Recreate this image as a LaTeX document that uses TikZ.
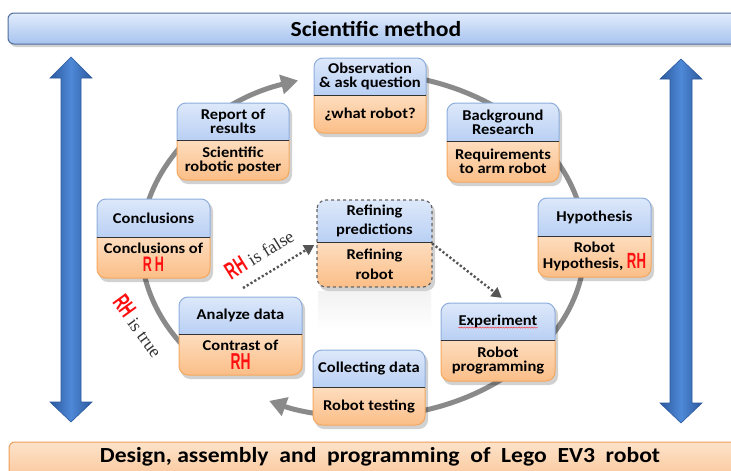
\documentclass[tikz,border=0pt]{standalone}
\usepackage{fontspec}
\usepackage{graphicx}
\setmainfont{Carlito}[FakeStretch=1.1]
\newfontfamily\rhfont{Liberation Sans}
\newfontfamily\serfont{Liberation Serif}
\usetikzlibrary{arrows.meta,decorations.pathmorphing,fit}
\definecolor{bA}{HTML}{DDE8FA}
\definecolor{bB}{HTML}{B9D0F4}
\definecolor{bBorder}{HTML}{8EAEDD}
\definecolor{oA}{HTML}{FDDDBF}
\definecolor{oB}{HTML}{FBBE87}
\definecolor{oBorder}{HTML}{F4A860}
\definecolor{banA}{HTML}{E2ECFC}
\definecolor{banB}{HTML}{A6C3EF}
\definecolor{banBorder}{HTML}{4F6E9B}
\definecolor{banOA}{HTML}{FDE3CA}
\definecolor{banOB}{HTML}{F9BE8C}
\definecolor{banOBorder}{HTML}{EE9E5A}
\definecolor{arrDark}{HTML}{2C5A9E}
\definecolor{arrLight}{HTML}{4E89D8}
\definecolor{arcgray}{HTML}{8A8A8A}
\definecolor{dotgray}{HTML}{555555}
\definecolor{rhred}{HTML}{FF1010}
\definecolor{txtgray}{HTML}{333333}
\newcommand\RH[1][22]{\textcolor{rhred}{\rhfont\bfseries\fontsize{#1}{#1}\selectfont\scalebox{0.6}[1]{RH}}}
\newcommand\RsH[1][21]{\textcolor{rhred}{\rhfont\bfseries\fontsize{#1}{#1}\selectfont\scalebox{0.6}[1]{R\hspace{5pt}H}}}
\tikzset{
  stagetxt/.style={align=center,inner sep=0pt,text=black,font=\bfseries\fontsize{15}{14}\selectfont},
  boxframe/.style={inner sep=0pt,draw=none},
  cyc/.style={line width=5pt,draw=arcgray,-{Triangle[length=17pt,width=19pt]}},
  dotarrow/.style={line width=2.4pt,draw=dotgray,dash pattern=on 2.2pt off 2.2pt,-{Triangle[length=10pt,width=11pt]}},
  bigarrow/.style={left color=arrDark,right color=arrDark,middle color=arrLight,draw=arrDark,line width=.6pt},
  shadowfill/.style={fill=black,opacity=.18},
  lbltxt/.style={inner sep=0pt,font=\serfont\fontsize{18}{18}\selectfont,text=txtgray}
}
% #1 name, #2 x1, #3 y1, #4 x2, #5 ysep, #6 y2, #7 top text, #8 bottom text, #9 border extra
\newcommand\stage[9]{%
  \fill[shadowfill,rounded corners=9pt] (#2+2,#3+3) rectangle (#4+3,#6+4);
  \begin{scope}
    \clip[rounded corners=9pt] (#2,#3) rectangle (#4,#6);
    \shade[top color=bA,bottom color=bB] (#2,#3) rectangle (#4,#5);
    \shade[top color=oA,bottom color=oB] (#2,#5) rectangle (#4,#6);
  \end{scope}
  \begin{scope}
    \clip (#2-3,#3-3) rectangle (#4+3,#5);
    \draw[bBorder,line width=1pt,rounded corners=9pt,#9] (#2,#3) rectangle (#4,#6);
  \end{scope}
  \begin{scope}
    \clip (#2-3,#5) rectangle (#4+3,#6+3);
    \draw[oBorder,line width=1pt,rounded corners=9pt,#9] (#2,#3) rectangle (#4,#6);
  \end{scope}
  \draw[black!80,line width=1pt] (#2,#5) -- (#4,#5);
  \node[boxframe,fit={(#2,#3) (#4,#6)}] (#1) {};
  \node[stagetxt] (#1-t) at ({(#2+#4)/2},{(#3+#5)/2}) {#7};
  \node[stagetxt] (#1-b) at ({(#2+#4)/2},{(#5+#6)/2}) {#8};
}
\begin{document}
\begin{tikzpicture}[x=1pt,y=-1pt]
\useasboundingbox (0,0) rectangle (731,471);
\fill[white] (0,0) rectangle (731,471);

% banners
\fill[shadowfill,rounded corners=6pt] (10,16) rectangle (760,47);
\shadedraw[top color=banA,bottom color=banB,draw=banBorder,line width=1pt,rounded corners=6pt] (8,13) rectangle (760,44);
\node[font=\bfseries\fontsize{21.5}{24}\selectfont] (title) at (376,29) {Scientific method};

\fill[shadowfill,rounded corners=6pt] (11,445) rectangle (760,490);
\shadedraw[top color=banOA,bottom color=banOB,draw=banOBorder,line width=1pt,rounded corners=6pt] (9,442) rectangle (760,490);
\node[font=\bfseries\fontsize{21.5}{24}\selectfont] (subtitle) at (380,457) {Design,\ assembly\ \ and\ \ programming\ \ of\ \ Lego\ \ EV3\ \ robot};

% big double arrows
\shade[bigarrow] (71,57) -- (92,78) -- (81,78) -- (81,402) -- (92,402) -- (71,422) -- (50,402) -- (61,402) -- (61,78) -- (50,78) -- cycle;
\shade[bigarrow] (681,59) -- (702,79) -- (692,79) -- (692,403) -- (702,403) -- (681,423) -- (660,403) -- (670,403) -- (670,79) -- (660,79) -- cycle;

% cycle arcs
\coordinate (C) at (363,245);
\draw[cyc] (C) ++(92:222pt and 172pt) arc[start angle=92,end angle=-115,x radius=222pt,y radius=172pt];
\draw[cyc] (C) ++(222:222pt and 172pt) arc[start angle=222,end angle=107,x radius=222pt,y radius=172pt];

% faint reflection under refining box
\shade[top color=black!5,bottom color=white] (318,291) rectangle (431,330);

% stages
\stage{obs}{314}{58}{426}{95}{133}{Observation\\\& ask question}{\raisebox{2pt}{¿what robot?}}{}
\stage{bg}{447}{103}{559}{141}{182}{Background\\Research}{Requirements\\to arm robot}{}
\stage{hyp}{538}{198}{651}{236}{277}{Hypothesis}{Robot\\Hypothesis, \RH}{}
\stage{exp}{441}{303}{555}{340}{381}{Experiment}{Robot\\programming}{}
\stage{col}{313}{350}{425}{387}{425}{Collecting data}{Robot testing}{}
\stage{ana}{179}{297}{302}{334}{375}{Analyze data}{Contrast of\\[2pt]\RH[23]}{}
\stage{con}{97}{199}{210}{237}{278}{Conclusions}{Conclusions of\\[2pt]\RsH}{}
\stage{rep}{177}{103}{289}{140}{180}{Report of\\results}{Scientific\\robotic poster}{}
\stage{ref}{317}{200}{432}{242}{287}{Refining\\[5pt]predictions}{Refining\\[6pt]robot}{draw=black!60,dashed,line width=1.2pt}

% spell-check underline
\draw[red!85,line width=.4pt,decorate,decoration={snake,amplitude=.6pt,segment length=2.6pt}]
  ([yshift=-2pt]exp-t.base west) -- ([yshift=-2pt]exp-t.base east);

% dotted arrows
\coordinate (fstart) at (243,288);
\draw[dotarrow,shorten >=3pt] (fstart) -- (ref.west);
\draw[dotarrow,shorten >=8pt] (ref.east) -- ([xshift=10pt]exp.north);

% labels
\node[lbltxt,rotate=32] (lblfalse) at (259,253) {\RH[24]\ is false};
\node[lbltxt,rotate=-54] (lbltrue) at (139,326) {\RH[24]\ is true};
\end{tikzpicture}
\end{document}
